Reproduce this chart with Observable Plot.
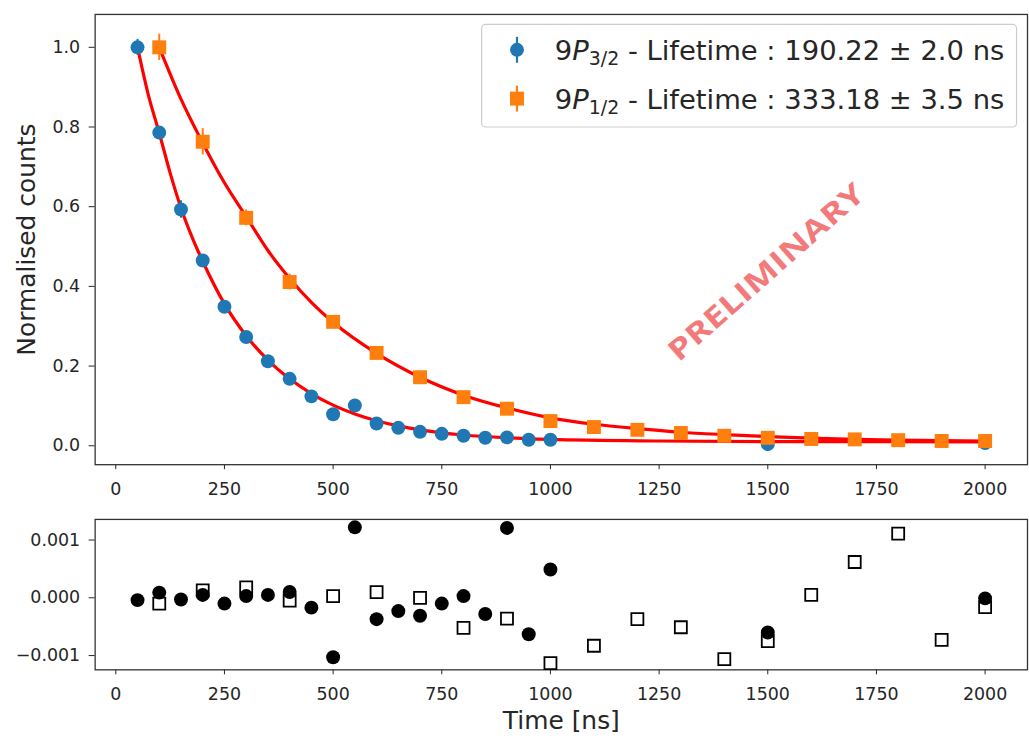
<!DOCTYPE html>
<html>
<head>
<meta charset="utf-8">
<script src="https://cdn.jsdelivr.net/npm/d3@7"></script>
<script src="https://cdn.jsdelivr.net/npm/@observablehq/plot@0.6"></script>
<style>
  html, body { margin: 0; padding: 0; background: #fff; }
  #wrap { position: relative; width: 1029px; height: 736px; overflow: hidden; font-family: "DejaVu Sans", sans-serif; }
  #top { position: absolute; left: 0; top: 0; }
  #bot { position: absolute; left: 0; top: 500px; }
</style>
</head>
<body>
<div id="wrap"><div id="top"></div><div id="bot"></div></div>
<script>
// ---- data ----
const t32 = [50,100,150,200,250,300,350,400,450,500,550,600,650,700,750,800,850,900,950,1000,1500,2000];
const y32 = [1.0,0.786,0.593,0.465,0.349,0.273,0.212,0.168,0.124,0.079,0.101,0.056,0.045,0.035,0.030,0.025,0.020,0.021,0.015,0.015,0.004,0.007];
const e32 = [0.02,0.012,0.022,0.012,0.01,0.009,0.008,0.007,0.006,0.006,0.006,0.005,0.005,0.005,0.005,0.005,0.005,0.005,0.005,0.005,0.004,0.004];

const t12 = [100,200,300,400,500,600,700,800,900,1000,1100,1200,1300,1400,1500,1600,1700,1800,1900,2000];
const y12 = [1.0,0.763,0.572,0.411,0.311,0.233,0.172,0.122,0.093,0.062,0.047,0.040,0.032,0.025,0.020,0.017,0.016,0.014,0.012,0.012];
const e12 = [0.033,0.033,0.02,0.02,0.012,0.01,0.008,0.007,0.006,0.005,0.005,0.005,0.005,0.005,0.005,0.005,0.005,0.005,0.005,0.005];

const fitT32 = [50,75,100,125,150,175,200,250,300,350,400,450,500,550,600,650,700,800,900,1000,1250,1500,1750,2000];
const fitY32 = [1.0,0.88,0.785,0.685,0.597,0.525,0.463,0.356,0.276,0.215,0.168,0.131,0.102,0.08,0.063,0.05,0.04,0.027,0.02,0.016,0.012,0.0105,0.0102,0.010];

const fitT12 = [100,150,200,250,300,350,400,450,500,600,700,800,900,1000,1100,1200,1300,1400,1500,1600,1700,1800,1900,2000];
const fitY12 = [1.0,0.87,0.76,0.66,0.575,0.49,0.42,0.36,0.31,0.232,0.172,0.127,0.095,0.07,0.054,0.043,0.034,0.028,0.023,0.019,0.016,0.014,0.013,0.012];

const res32 = [-0.00004,0.00009,-0.00003,0.00005,-0.0001,0.00003,0.00005,0.0001,-0.00017,-0.00103,0.00122,-0.00037,-0.00023,-0.00031,-0.0001,0.00003,-0.00028,0.00121,-0.00063,0.00049,-0.0006,-0.00001];
const res12 = [-0.0001,0.00013,0.00018,-0.00005,0.00003,0.0001,0.0,-0.00052,-0.00036,-0.00113,-0.00083,-0.00037,-0.00051,-0.00106,-0.00075,0.00005,0.00062,0.00111,-0.00073,-0.00016];

const xTicks = [0,250,500,750,1000,1250,1500,1750,2000];
const yTicks = [0,0.2,0.4,0.6,0.8,1.0];
const resTicks = [-0.001,0,0.001];

const legendLabels = [
  {state: "3/2", text: " - Lifetime : 190.22 ± 2.0 ns"},
  {state: "1/2", text: " - Lifetime : 333.18 ± 3.5 ns"}
];
const yLabel = "Normalised counts";
const xLabel = "Time [ns]";
const watermark = "PRELIMINARY";

// ---- tables ----
const d32 = t32.map((t,i) => ({t, y: y32[i], e: e32[i], r: res32[i]}));
const d12 = t12.map((t,i) => ({t, y: y12[i], e: e12[i], r: res12[i]}));
const f32 = fitT32.map((t,i) => ({t, y: fitY32[i]}));
const f12 = fitT12.map((t,i) => ({t, y: fitY12[i]}));

const BLUE = "#1f77b4", ORANGE = "#ff7f0e", INK = "#262626";
const xDomain = [-47.5, 2097.5];
const baseStyle = {fontFamily: "DejaVu Sans, sans-serif", fontSize: "17.5px", color: INK, background: "transparent", overflow: "visible"};

const topPlot = Plot.plot({
  width: 1033, height: 500,
  marginLeft: 95, marginRight: 2, marginTop: 14, marginBottom: 34,
  style: baseStyle,
  x: {domain: xDomain, ticks: xTicks, tickFormat: d3.format("d"), label: null, tickSize: 5, tickPadding: 13},
  y: {domain: [-0.0475, 1.0825], ticks: yTicks, tickFormat: d3.format(".1f"), label: null, tickSize: 6, tickPadding: 9},
  marks: [
    Plot.frame({stroke: "#333", strokeWidth: 1.3}),
    Plot.line(f32, {x: "t", y: "y", stroke: "#ff0000", strokeWidth: 3.2, curve: "monotone-x"}),
    Plot.line(f12, {x: "t", y: "y", stroke: "#ff0000", strokeWidth: 3.2, curve: "monotone-x"}),
    Plot.ruleX(d32, {x: "t", y1: d => d.y - d.e, y2: d => d.y + d.e, stroke: BLUE, strokeWidth: 2}),
    Plot.dot(d32, {x: "t", y: "y", r: 7, fill: BLUE, symbol: "circle"}),
    Plot.ruleX(d12, {x: "t", y1: d => d.y - d.e, y2: d => d.y + d.e, stroke: ORANGE, strokeWidth: 2}),
    Plot.dot(d12, {x: "t", y: "y", r: 7.9, fill: ORANGE, symbol: "square"}),
    Plot.text([yLabel], {text: d => d, frameAnchor: "left", dx: -68, rotate: -90, textAnchor: "middle", lineAnchor: "middle", fontSize: 25, fill: INK})
  ]
});
document.getElementById("top").appendChild(topPlot);

// legend and watermark overlays
{
  const svg = d3.select(topPlot);
  const g = svg.append("g").attr("font-family", "DejaVu Sans, sans-serif").attr("fill", INK).attr("text-anchor", "start");
  g.append("rect").attr("x", 483.5).attr("y", 24.5).attr("width", 537).attr("height", 103)
    .attr("rx", 4).attr("fill", "white").attr("fill-opacity", 0.85).attr("stroke", "#cccccc").attr("stroke-width", 1.2);
  const rows = [{cy: 50, color: BLUE, sym: "circle"}, {cy: 99, color: ORANGE, sym: "square"}];
  rows.forEach((row, i) => {
    g.append("line").attr("x1", 519).attr("x2", 519).attr("y1", row.cy - 13).attr("y2", row.cy + 13)
      .attr("stroke", row.color).attr("stroke-width", 2.2);
    if (row.sym === "circle") g.append("circle").attr("cx", 519).attr("cy", row.cy).attr("r", 7).attr("fill", row.color);
    else g.append("rect").attr("x", 512).attr("y", row.cy - 7).attr("width", 14).attr("height", 14).attr("fill", row.color);
    const tx = g.append("text").attr("x", 557).attr("y", row.cy + 10).attr("font-size", 27.5).attr("text-anchor", "start");
    tx.append("tspan").text("9");
    tx.append("tspan").attr("font-style", "italic").text("P");
    tx.append("tspan").attr("font-size", 19).attr("dy", 5).text(legendLabels[i].state);
    tx.append("tspan").attr("dy", -5).text(legendLabels[i].text);
  });
  svg.append("text").attr("transform", "translate(768,272) rotate(-41.5)")
    .attr("text-anchor", "middle").attr("dominant-baseline", "central")
    .attr("font-family", "Open Sans, sans-serif").attr("font-weight", "bold").attr("font-size", 29)
    .attr("textLength", 252).attr("lengthAdjust", "spacingAndGlyphs")
    .attr("fill", "#f37a7a").text(watermark);
}

const botPlot = Plot.plot({
  width: 1033, height: 236,
  marginLeft: 95, marginRight: 2, marginTop: 19, marginBottom: 66,
  style: baseStyle,
  x: {domain: xDomain, ticks: xTicks, tickFormat: d3.format("d"), label: null, tickSize: 5, tickPadding: 13},
  y: {domain: [-0.001247, 0.001357], ticks: resTicks, tickFormat: d3.format(".3f"), label: null, tickSize: 6, tickPadding: 9},
  marks: [
    Plot.frame({stroke: "#333", strokeWidth: 1.3}),
    Plot.dot(d12, {x: "t", y: "r", r: 6.8, symbol: "square", fill: "white", stroke: "black", strokeWidth: 1.8}),
    Plot.dot(d32, {x: "t", y: "r", r: 7, symbol: "circle", fill: "black"}),
    Plot.text([xLabel], {text: d => d, frameAnchor: "bottom", dy: 51, lineAnchor: "middle", fontSize: 25, fill: INK})
  ]
});
document.getElementById("bot").appendChild(botPlot);
</script>
</body>
</html>
